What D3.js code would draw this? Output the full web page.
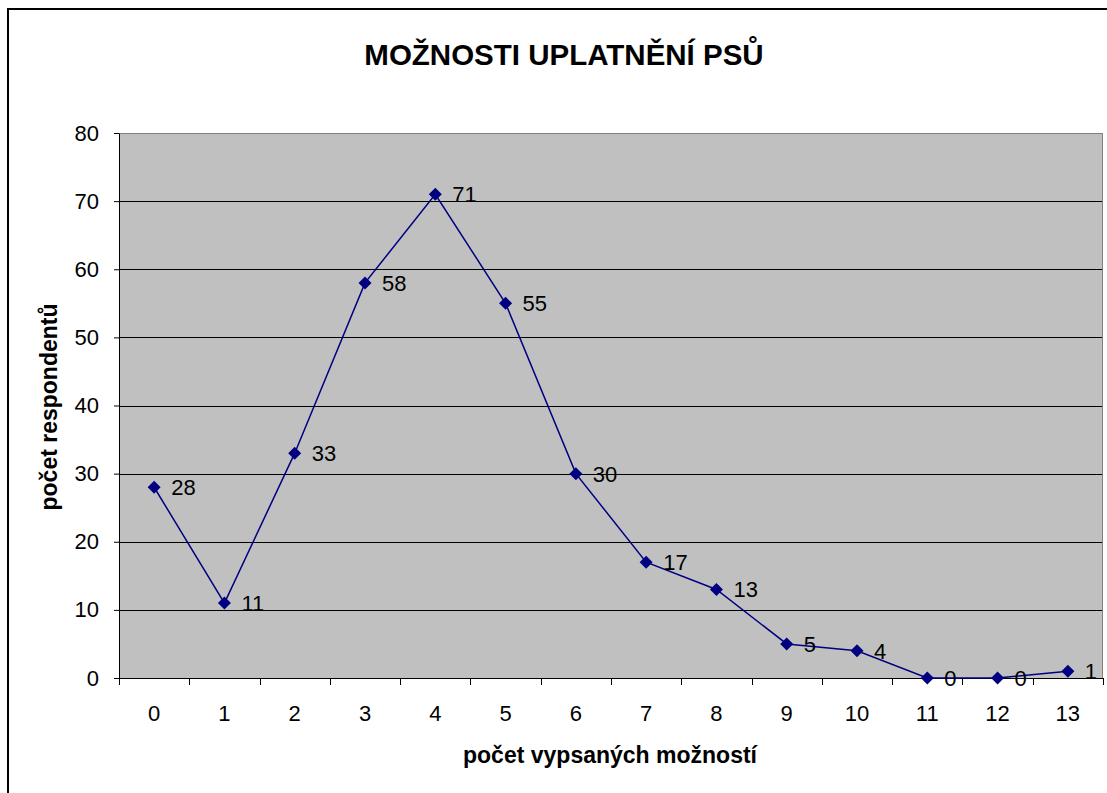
<!DOCTYPE html>
<html>
<head>
<meta charset="utf-8">
<script src="https://cdn.jsdelivr.net/npm/d3@7"></script>
<style>
  body { margin: 0; background: #fff; }
  svg { display: block; font-family: "Liberation Sans", Arial, sans-serif; }
</style>
</head>
<body>
<svg id="chart" width="1107" height="793"></svg>
<script>
const categories = ["0", "1", "2", "3", "4", "5", "6", "7", "8", "9", "10", "11", "12", "13"];
const counts = [28, 11, 33, 58, 71, 55, 30, 17, 13, 5, 4, 0, 0, 1];
const yTicks = [0, 10, 20, 30, 40, 50, 60, 70, 80];

const svg = d3.select("#chart");
const margin = { top: 133, right: 4, bottom: 115, left: 119 };
const width = 1107 - margin.left - margin.right;
const height = 793 - margin.top - margin.bottom;

// outer chart frame (runs past right/bottom edge)
svg.append("rect")
  .attr("x", 8).attr("y", 9)
  .attr("width", 1110).attr("height", 800)
  .attr("fill", "#fff")
  .attr("stroke", "#000")
  .attr("stroke-width", 2);

svg.append("text")
  .attr("x", 564).attr("y", 65)
  .attr("text-anchor", "middle")
  .attr("font-size", 29.5)
  .attr("font-weight", "bold")
  .text("MOŽNOSTI UPLATNĚNÍ PSŮ");

const x = d3.scaleBand().domain(categories).range([0, width]);
const y = d3.scaleLinear().domain([0, 80]).range([height, 0]);

const g = svg.append("g").attr("transform", `translate(${margin.left},${margin.top})`);

g.append("rect")
  .attr("width", width).attr("height", height)
  .attr("fill", "#c0c0c0");

g.selectAll("line.grid")
  .data(yTicks.filter(d => d > 0 && d < 80))
  .enter().append("line")
  .attr("class", "grid")
  .attr("x1", 0).attr("x2", width)
  .attr("y1", d => Math.round(y(d)) + 0.5).attr("y2", d => Math.round(y(d)) + 0.5)
  .attr("stroke", "#000").attr("stroke-width", 1);

g.append("rect")
  .attr("x", 0.5).attr("y", 0.5)
  .attr("width", width - 1).attr("height", height)
  .attr("fill", "none")
  .attr("stroke", "#808080").attr("stroke-width", 1);

// y axis
const yAxis = g.append("g")
  .call(d3.axisLeft(y).tickValues(yTicks).tickSize(5).tickPadding(15).tickSizeOuter(0));
yAxis.select(".domain").attr("stroke", "#000");
yAxis.selectAll("text")
  .attr("font-size", 22)
  .attr("fill", "#000")
  .attr("font-family", "Liberation Sans, Arial, sans-serif");

// x axis: ticks at band boundaries
const xAxis = g.append("g").attr("transform", `translate(0,${height})`);
xAxis.append("line")
  .attr("x1", 0).attr("x2", width)
  .attr("y1", 0.5).attr("y2", 0.5)
  .attr("stroke", "#000");
xAxis.selectAll("line.tick")
  .data(categories.concat(["end"]))
  .enter().append("line")
  .attr("class", "tick")
  .attr("x1", (d, i) => Math.round(i * x.bandwidth()) + 0.5)
  .attr("x2", (d, i) => Math.round(i * x.bandwidth()) + 0.5)
  .attr("y1", 0).attr("y2", 7)
  .attr("stroke", "#000");
xAxis.selectAll("text")
  .data(categories)
  .enter().append("text")
  .attr("x", d => x(d) + x.bandwidth() / 2)
  .attr("y", 43)
  .attr("text-anchor", "middle")
  .attr("font-size", 22)
  .text(d => d);

// axis titles
svg.append("text")
  .attr("x", 610).attr("y", 763)
  .attr("text-anchor", "middle")
  .attr("font-size", 23)
  .attr("font-weight", "bold")
  .text("počet vypsaných možností");

svg.append("text")
  .attr("transform", "translate(57,407) rotate(-90)")
  .attr("text-anchor", "middle")
  .attr("font-size", 23)
  .attr("font-weight", "bold")
  .text("počet respondentů");

// series
const points = categories.map((c, i) => ({ c, v: counts[i] }));
const cx = d => x(d.c) + x.bandwidth() / 2;

g.append("path")
  .datum(points)
  .attr("fill", "none")
  .attr("stroke", "#000080")
  .attr("stroke-width", 1.5)
  .attr("d", d3.line().x(cx).y(d => y(d.v)));

g.selectAll("path.marker")
  .data(points)
  .enter().append("path")
  .attr("class", "marker")
  .attr("transform", d => `translate(${cx(d)},${y(d.v)})`)
  .attr("d", "M0,-6.5L6.5,0L0,6.5L-6.5,0Z")
  .attr("fill", "#000080");

g.selectAll("text.label")
  .data(points)
  .enter().append("text")
  .attr("class", "label")
  .attr("x", d => cx(d) + 17)
  .attr("y", d => y(d.v) + 8)
  .attr("font-size", 22)
  .text(d => d.v);
</script>
</body>
</html>
